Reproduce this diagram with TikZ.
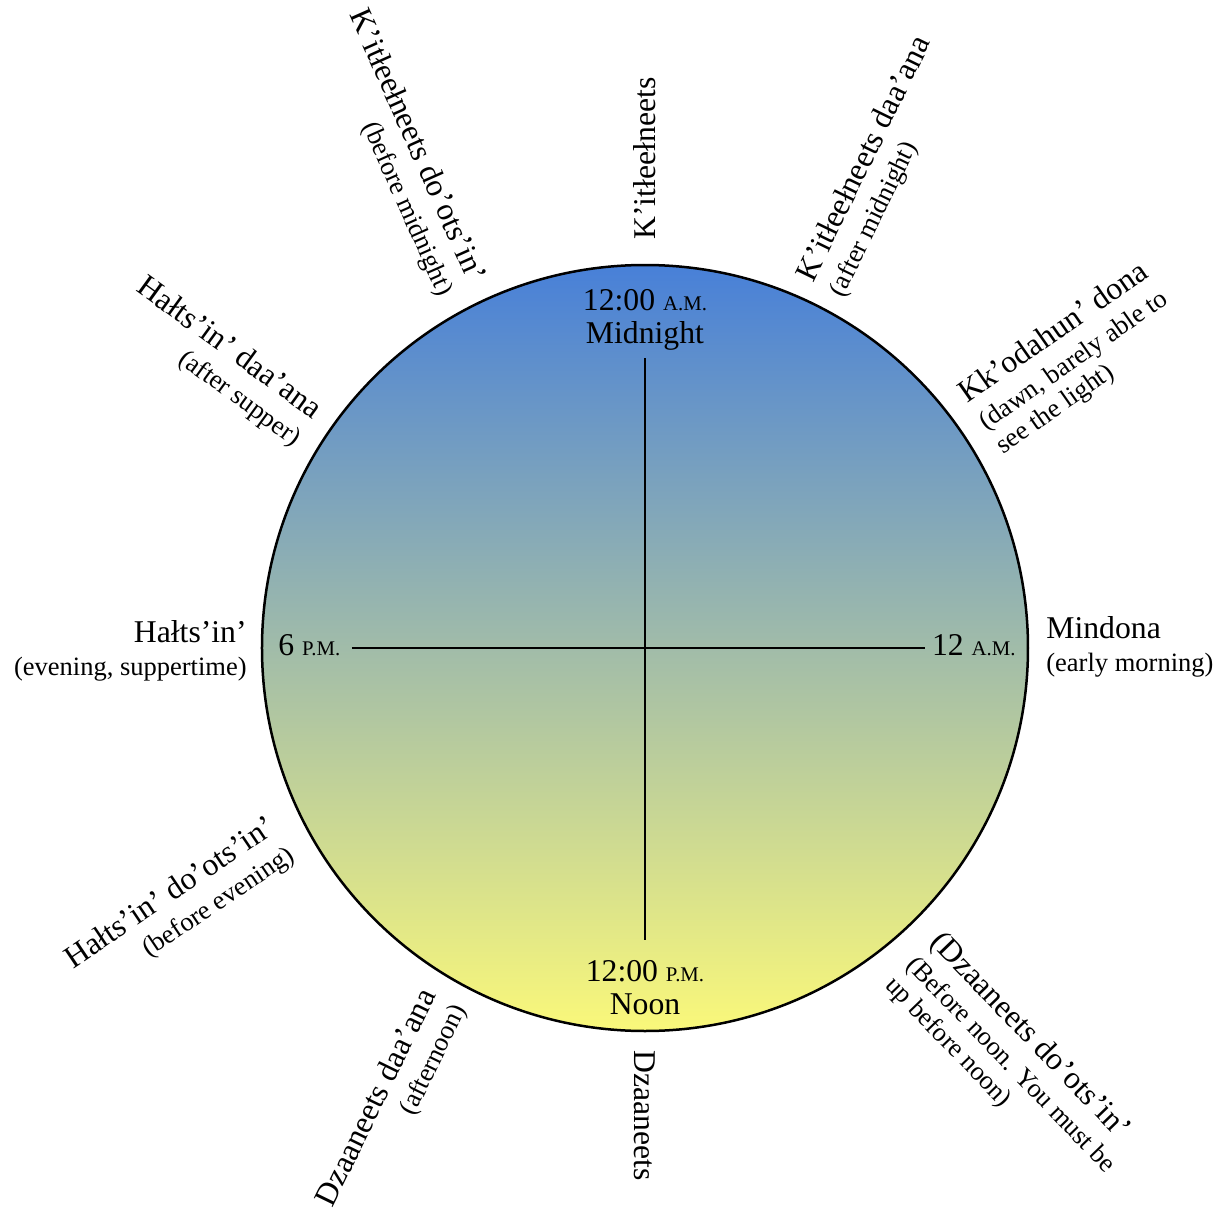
\documentclass[tikz,border=0pt]{standalone}
\usepackage{fontspec}
\setmainfont{Liberation Serif}
\usetikzlibrary{positioning}
\definecolor{skyblue}{RGB}{72,128,216}
\definecolor{dusk}{RGB}{166,189,172}
\definecolor{sunyellow}{RGB}{250,248,122}
\newcommand{\engl}[1]{{\fontsize{13.25}{15}\selectfont #1}}
\newcommand{\ampm}[1]{{\fontsize{10.4}{12}\selectfont #1}}

\begin{document}
\begin{tikzpicture}[x=0.5pt,y=0.5pt,outer/.style={inner sep=0pt, font=\fontsize{15.85}{16.5}\selectfont}]
    \tikzset{inner/.style={inner sep=0pt, align=center, font=\fontsize{15.85}{16.5}\selectfont}}
    \tikzset{hand/.style={line width=1.25pt}}
    \def \radius {383}
    \useasboundingbox (-645,-574) rectangle (575,648);
    % the day as a dial
    \shade[top color=skyblue, middle color=dusk, bottom color=sunyellow] (0,0) circle (\radius);
    \draw[line width=1.25pt] (0,0) circle (\radius);
    \coordinate (w) at (-293,0); \coordinate (e) at (280,0);
    \coordinate (n) at (0,290);  \coordinate (s) at (0,-292);
    \draw[hand] (w) -- (e);
    \draw[hand] (n) -- (s);
    
    \node[inner] (midnight) at (0,328) {12:00 \ampm{A.M.}\\Midnight};
    \node[inner] (noon) at (0,-340) {12:00 \ampm{P.M.}\\Noon};
    \node[inner, anchor=west] (sixpm) at (-367,3) {6 \ampm{P.M.}};
    \node[inner, anchor=east] (twelveam) at (371,3) {12 \ampm{A.M.}};
    
    %names round the dial, counter-clockwise from midnight
    \node[outer, rotate=90, anchor=west] (kitleelneets) at (90:408) {K’itłeełneets};
    \node[outer, rotate=64, anchor=west, align=left] (afmid) at (64:401) {K’itłeełneets daa’ana\\\engl{(after midnight)}};
    \node[outer, rotate=35, anchor=west, align=left] (dawn) at (33.9:404) {Kk’odahun’ dona\\\engl{(dawn, barely able to}\\[-2pt]\engl{see the light)}};
    \node[outer, anchor=west, align=left] (mindona) at (0.2:401) {Mindona\\\engl{(early morning)}};
    \node[outer, rotate=-46, anchor=west, align=left] (befnoon) at (-49.3:410) {(Dzaaneets do’ots’in’\\\engl{(Before noon. You must be}\\[-2pt]\engl{up before noon)}};
    \node[outer, rotate=-90, anchor=west] (dzaaneets) at (270:402) {Dzaaneets};
    \node[outer, rotate=64, anchor=east, align=right] (afnoon) at (240.2:404) {Dzaaneets daa’ana\\\engl{(afternoon)}};
    \node[outer, rotate=34, anchor=east, align=right] (befeve) at (207.7:410) {Hałts’in’ do’ots’in’\\\engl{(before evening)}};
    \node[outer, anchor=east, align=right] (haltsin) at (180.4:398) {Hałts’in’\\\engl{(evening, suppertime)}};
    \node[outer, rotate=-36, anchor=east, align=right] (afsup) at (146.7:403) {Hałts’in’ daa’ana\\\engl{(after supper)}};
    \node[outer, rotate=-66, anchor=east, align=right] (befmid) at (117:404) {K’itłeełneets do’ots’in’\\\engl{(before midnight)}};
\end{tikzpicture}
\end{document}
